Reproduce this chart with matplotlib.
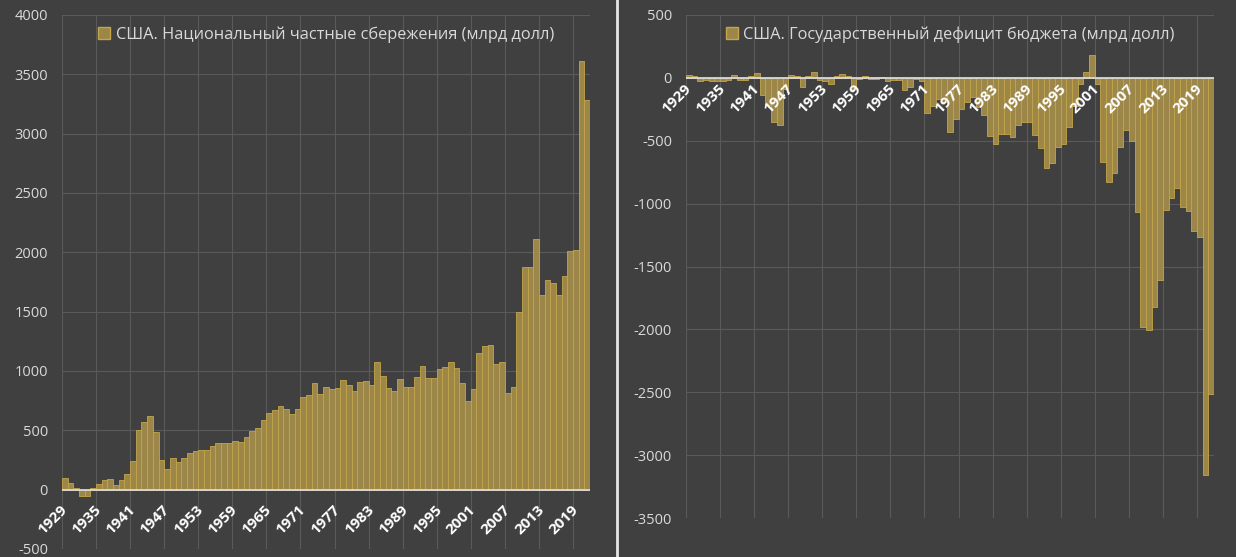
import matplotlib
matplotlib.use('Agg')
import matplotlib.pyplot as plt
from matplotlib.lines import Line2D

plt.rcParams['font.family'] = ['Open Sans', 'DejaVu Sans']

BG = '#404040'
BAR = '#9D8748'
BAR_EDGE = '#C4A54C'
GRID = '#5A5A5A'
TXT = '#D9D9D9'

years = list(range(1929, 2022))

# private savings, bn USD
savings = [
    98, 59, 17, -50, -50, 10, 50, 84, 93, 42, 84,
    135, 244, 500, 573, 621, 489, 253, 177, 267, 236,
    267, 309, 326, 334, 334, 371, 393, 396, 390, 413,
    404, 447, 497, 522, 587, 649, 671, 708, 677, 640,
    680, 781, 798, 899, 809, 865, 851, 860, 927, 885,
    834, 910, 918, 885, 1079, 961, 854, 834, 935, 868,
    868, 952, 1045, 944, 944, 1020, 1037, 1079, 1028, 902,
    750, 851, 1154, 1213, 1222, 1056, 1079, 817, 868, 1500,
    1880, 1880, 2115, 1640, 1770, 1740, 1640, 1800, 2015, 2020,
    3610, 3280,
]

# government budget balance, bn USD
deficit = [
    24, 16, -26, -16, -21, -26, -26, -16, 26, -13, -18,
    13, 35, -140, -215, -354, -378, -88, 24, 13, -74,
    18, 50, -13, -24, -50, 18, 32, 13, -85, -5,
    18, -8, -8, 10, -24, -20, -20, -95, -69, -10,
    -25, -276, -220, -167, -193, -432, -324, -250, -193, -153,
    -233, -299, -460, -528, -443, -443, -472, -376, -350, -350,
    -452, -560, -720, -678, -546, -527, -388, -222, -52, 50,
    185, -50, -666, -830, -755, -546, -413, -505, -1070, -1978,
    -2005, -1822, -1607, -1048, -958, -878, -1029, -1056, -1214, -1267,
    -3155, -2512,
]

title_left = 'США. Национальный частные сбережения (млрд долл)'
title_right = 'США. Государственный дефицит бюджета (млрд долл)'


def draw_panel(ax, values, label, ylim, yticks, label_pad):
    ax.set_facecolor(BG)
    idx = list(range(len(values)))
    ax.spines['bottom'].set_position(('data', 0))
    for s in ax.spines.values():
        s.set_visible(False)

    # gridlines behind the bars
    for t in yticks:
        ax.axhline(t, color=GRID, lw=0.8, zorder=0)
    for i in idx[::6]:
        ax.axvline(i - 0.5, color=GRID, lw=0.8, zorder=0)

    ax.bar(idx, values, width=1.0, color=BAR, edgecolor=BAR_EDGE, linewidth=0.6, zorder=2)
    ax.axhline(0, color=TXT, lw=1.3, zorder=3)
    ax.set_xlim(-0.5, len(values) - 0.5)
    ax.set_ylim(*ylim)
    ax.set_yticks(yticks)
    ax.set_yticklabels([str(t) for t in yticks], color=TXT, fontsize=10.5)
    ax.set_xticks(idx[::6])
    ax.set_xticklabels([str(years[i]) for i in idx[::6]], rotation=45, ha='right',
                       va='center', rotation_mode='anchor', color='white',
                       fontsize=11, fontweight='bold')
    ax.tick_params(axis='both', which='both', length=0)
    ax.tick_params(axis='x', pad=label_pad)
    ax.tick_params(axis='y', pad=10)
    ax.xaxis.set_zorder(5)
    ax.yaxis.set_zorder(5)
    handle = Line2D([], [], marker='s', ls='', markersize=9, color=BAR,
                    markeredgecolor=BAR_EDGE)
    leg = ax.legend([handle], [label], loc='upper center', frameon=False,
                    fontsize=11.8, handlelength=0.8, handletextpad=0.3,
                    borderaxespad=0.3, labelcolor=TXT)
    leg.set_zorder(6)
    return leg


fig = plt.figure(figsize=(12.36, 5.57), dpi=100)
fig.patch.set_facecolor(BG)

ax1 = fig.add_axes([62 / 1236, 1 - 549 / 557, 528 / 1236, 534 / 557])
draw_panel(ax1, savings, title_left, (-500, 4000), list(range(-500, 4001, 500)), 13)

ax2 = fig.add_axes([686 / 1236, 1 - 518 / 557, 528 / 1236, 503 / 557])
draw_panel(ax2, deficit, title_right, (-3500, 500), list(range(-3500, 501, 500)), 6)

fig.add_artist(Line2D([617 / 1236, 617 / 1236], [0, 1], color='#E6E6E6', lw=2))

fig.savefig('out.png', dpi=100, facecolor=BG)
